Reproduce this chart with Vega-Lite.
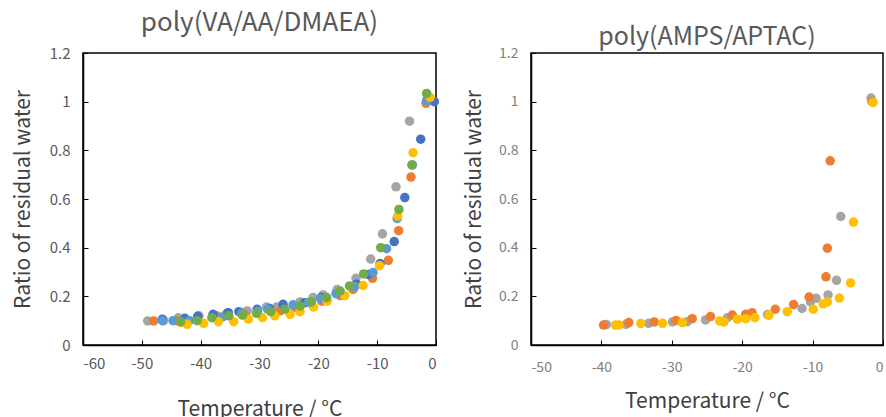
{
  "$schema": "https://vega.github.io/schema/vega-lite/v6.json",
  "padding": {"left": 11, "top": 9, "right": 0, "bottom": 0},
  "background": "white",
  "config": {
    "font": "Noto Sans CJK JP",
    "view": {"stroke": "black", "strokeWidth": 1.5},
    "axis": {
      "grid": false,
      "domainColor": "black",
      "domainWidth": 1.5,
      "tickColor": "black",
      "tickSize": -5,
      "labelColor": "#595959",
      "titleColor": "#404040",
      "titleFontWeight": "normal"
    },
    "title": {"fontWeight": "normal", "color": "#595959", "fontSize": 25},
    "concat": {"spacing": 22}
  },
  "datasets": {
    "left": [
      {"s": "gray", "t": -49.0, "r": 0.099}, {"s": "gray", "t": -46.3, "r": 0.100}, {"s": "gray", "t": -43.8, "r": 0.112}, {"s": "gray", "t": -40.3, "r": 0.120}, {"s": "gray", "t": -35.6, "r": 0.130}, {"s": "gray", "t": -32.1, "r": 0.140}, {"s": "gray", "t": -28.8, "r": 0.156}, {"s": "gray", "t": -27.1, "r": 0.156}, {"s": "gray", "t": -23.1, "r": 0.177}, {"s": "gray", "t": -20.9, "r": 0.195}, {"s": "gray", "t": -19.2, "r": 0.206}, {"s": "gray", "t": -16.8, "r": 0.228}, {"s": "gray", "t": -13.6, "r": 0.274}, {"s": "gray", "t": -11.1, "r": 0.353}, {"s": "gray", "t": -9.1, "r": 0.457}, {"s": "gray", "t": -6.8, "r": 0.650}, {"s": "gray", "t": -4.5, "r": 0.920}, {"s": "gray", "t": -1.6, "r": 1.000},
      {"s": "orange", "t": -48.0, "r": 0.099}, {"s": "orange", "t": -44.0, "r": 0.100}, {"s": "orange", "t": -37.3, "r": 0.120}, {"s": "orange", "t": -32.5, "r": 0.125}, {"s": "orange", "t": -26.5, "r": 0.140}, {"s": "orange", "t": -24.0, "r": 0.155}, {"s": "orange", "t": -19.4, "r": 0.180}, {"s": "orange", "t": -16.3, "r": 0.203}, {"s": "orange", "t": -14.1, "r": 0.228}, {"s": "orange", "t": -10.8, "r": 0.274}, {"s": "orange", "t": -8.1, "r": 0.348}, {"s": "orange", "t": -6.35, "r": 0.470}, {"s": "orange", "t": -4.25, "r": 0.690}, {"s": "orange", "t": -1.7, "r": 0.993},
      {"s": "blue", "t": -46.5, "r": 0.106}, {"s": "blue", "t": -42.7, "r": 0.110}, {"s": "blue", "t": -40.5, "r": 0.118}, {"s": "blue", "t": -37.9, "r": 0.126}, {"s": "blue", "t": -35.3, "r": 0.133}, {"s": "blue", "t": -33.5, "r": 0.137}, {"s": "blue", "t": -30.4, "r": 0.147}, {"s": "blue", "t": -28.3, "r": 0.150}, {"s": "blue", "t": -26.0, "r": 0.167}, {"s": "blue", "t": -22.3, "r": 0.174}, {"s": "blue", "t": -19.5, "r": 0.195}, {"s": "blue", "t": -16.5, "r": 0.215}, {"s": "blue", "t": -13.5, "r": 0.250}, {"s": "blue", "t": -11.5, "r": 0.290}, {"s": "blue", "t": -9.5, "r": 0.335}, {"s": "blue", "t": -7.1, "r": 0.425}, {"s": "blue", "t": -5.3, "r": 0.606}, {"s": "blue", "t": -2.6, "r": 0.846}, {"s": "blue", "t": -0.3, "r": 1.000},
      {"s": "lightblue", "t": -46.5, "r": 0.100}, {"s": "lightblue", "t": -44.7, "r": 0.100}, {"s": "lightblue", "t": -41.9, "r": 0.100}, {"s": "lightblue", "t": -36.3, "r": 0.115}, {"s": "lightblue", "t": -33.0, "r": 0.130}, {"s": "lightblue", "t": -30.3, "r": 0.140}, {"s": "lightblue", "t": -28.6, "r": 0.147}, {"s": "lightblue", "t": -24.3, "r": 0.165}, {"s": "lightblue", "t": -21.7, "r": 0.175}, {"s": "lightblue", "t": -19.6, "r": 0.190}, {"s": "lightblue", "t": -17.0, "r": 0.211}, {"s": "lightblue", "t": -13.8, "r": 0.240}, {"s": "lightblue", "t": -10.7, "r": 0.298}, {"s": "lightblue", "t": -8.4, "r": 0.396}, {"s": "lightblue", "t": -6.6, "r": 0.520}, {"s": "lightblue", "t": -4.0, "r": 0.740}, {"s": "lightblue", "t": -1.6, "r": 1.004},
      {"s": "yellow", "t": -43.3, "r": 0.092}, {"s": "yellow", "t": -42.3, "r": 0.085}, {"s": "yellow", "t": -39.5, "r": 0.089}, {"s": "yellow", "t": -37.0, "r": 0.096}, {"s": "yellow", "t": -34.4, "r": 0.096}, {"s": "yellow", "t": -31.9, "r": 0.106}, {"s": "yellow", "t": -29.5, "r": 0.112}, {"s": "yellow", "t": -27.4, "r": 0.120}, {"s": "yellow", "t": -24.8, "r": 0.126}, {"s": "yellow", "t": -23.1, "r": 0.137}, {"s": "yellow", "t": -20.8, "r": 0.156}, {"s": "yellow", "t": -18.5, "r": 0.180}, {"s": "yellow", "t": -15.5, "r": 0.203}, {"s": "yellow", "t": -12.4, "r": 0.245}, {"s": "yellow", "t": -9.6, "r": 0.326}, {"s": "yellow", "t": -6.5, "r": 0.530}, {"s": "yellow", "t": -3.9, "r": 0.790}, {"s": "yellow", "t": -1.0, "r": 1.018},
      {"s": "green", "t": -43.4, "r": 0.096}, {"s": "green", "t": -40.6, "r": 0.100}, {"s": "green", "t": -38.1, "r": 0.112}, {"s": "green", "t": -35.2, "r": 0.120}, {"s": "green", "t": -32.9, "r": 0.123}, {"s": "green", "t": -30.5, "r": 0.130}, {"s": "green", "t": -28.1, "r": 0.137}, {"s": "green", "t": -25.7, "r": 0.147}, {"s": "green", "t": -23.1, "r": 0.160}, {"s": "green", "t": -21.2, "r": 0.177}, {"s": "green", "t": -18.6, "r": 0.195}, {"s": "green", "t": -16.3, "r": 0.222}, {"s": "green", "t": -14.7, "r": 0.243}, {"s": "green", "t": -12.3, "r": 0.292}, {"s": "green", "t": -9.4, "r": 0.400}, {"s": "green", "t": -6.3, "r": 0.557}, {"s": "green", "t": -4.1, "r": 0.740}, {"s": "green", "t": -1.6, "r": 1.034}
    ],
    "right": [
      {"s": "gray", "t": -39.3, "r": 0.084}, {"s": "gray", "t": -36.5, "r": 0.085}, {"s": "gray", "t": -33.3, "r": 0.089}, {"s": "gray", "t": -29.9, "r": 0.095}, {"s": "gray", "t": -27.8, "r": 0.096}, {"s": "gray", "t": -25.2, "r": 0.103}, {"s": "gray", "t": -22.1, "r": 0.112}, {"s": "gray", "t": -16.4, "r": 0.125}, {"s": "gray", "t": -11.5, "r": 0.150}, {"s": "gray", "t": -10.3, "r": 0.177}, {"s": "gray", "t": -9.5, "r": 0.192}, {"s": "gray", "t": -7.8, "r": 0.206}, {"s": "gray", "t": -6.6, "r": 0.266}, {"s": "gray", "t": -6.0, "r": 0.528}, {"s": "gray", "t": -1.7, "r": 1.015},
      {"s": "orange", "t": -39.7, "r": 0.082}, {"s": "orange", "t": -36.1, "r": 0.092}, {"s": "orange", "t": -32.5, "r": 0.095}, {"s": "orange", "t": -29.4, "r": 0.101}, {"s": "orange", "t": -27.1, "r": 0.108}, {"s": "orange", "t": -24.5, "r": 0.117}, {"s": "orange", "t": -21.4, "r": 0.123}, {"s": "orange", "t": -19.5, "r": 0.126}, {"s": "orange", "t": -18.6, "r": 0.133}, {"s": "orange", "t": -15.3, "r": 0.147}, {"s": "orange", "t": -12.7, "r": 0.166}, {"s": "orange", "t": -10.5, "r": 0.197}, {"s": "orange", "t": -8.1, "r": 0.280}, {"s": "orange", "t": -7.9, "r": 0.398}, {"s": "orange", "t": -7.5, "r": 0.757}, {"s": "orange", "t": -1.56, "r": 1.000},
      {"s": "yellow", "t": -38.0, "r": 0.082}, {"s": "yellow", "t": -37.5, "r": 0.082}, {"s": "yellow", "t": -34.4, "r": 0.088}, {"s": "yellow", "t": -31.3, "r": 0.089}, {"s": "yellow", "t": -28.5, "r": 0.092}, {"s": "yellow", "t": -23.2, "r": 0.099}, {"s": "yellow", "t": -22.6, "r": 0.095}, {"s": "yellow", "t": -20.7, "r": 0.106}, {"s": "yellow", "t": -19.5, "r": 0.108}, {"s": "yellow", "t": -18.2, "r": 0.112}, {"s": "yellow", "t": -16.2, "r": 0.122}, {"s": "yellow", "t": -13.6, "r": 0.137}, {"s": "yellow", "t": -9.9, "r": 0.147}, {"s": "yellow", "t": -8.5, "r": 0.169}, {"s": "yellow", "t": -7.9, "r": 0.177}, {"s": "yellow", "t": -6.2, "r": 0.193}, {"s": "yellow", "t": -4.6, "r": 0.255}, {"s": "yellow", "t": -4.2, "r": 0.505}, {"s": "yellow", "t": -1.4, "r": 0.997}
    ]
  },
  "hconcat": [
    {
      "width": 353,
      "height": 292,
      "data": {"name": "left"},
      "title": {"text": "poly(VA/AA/DMAEA)", "offset": 10, "fontSize": 26},
      "mark": {"type": "circle", "size": 90, "opacity": 1},
      "encoding": {
        "x": {"field": "t", "type": "quantitative", "scale": {"domain": [-60, 0], "nice": false},
          "axis": {"values": [-60, -50, -40, -30, -20, -10, 0], "labelExpr": "'' + datum.value", "title": "Temperature / °C", "titleFontSize": 21, "labelFontSize": 15, "labelPadding": 16, "titlePadding": 27}},
        "y": {"field": "r", "type": "quantitative", "scale": {"domain": [0, 1.2], "nice": false},
          "axis": {"values": [0, 0.2, 0.4, 0.6, 0.8, 1, 1.2], "format": ".1~f", "title": "Ratio of residual water", "titleFontSize": 21, "labelFontSize": 15, "labelPadding": 18, "titlePadding": 16}},
        "color": {"field": "s", "type": "nominal", "legend": null,
          "scale": {"domain": ["gray", "orange", "blue", "lightblue", "yellow", "green"], "range": ["#A5A5A5", "#ED7D31", "#4472C4", "#5B9BD5", "#FFC000", "#70AD47"]}}
      }
    },
    {
      "width": 352,
      "height": 292,
      "data": {"name": "right"},
      "title": {"text": "poly(AMPS/APTAC)", "offset": -4},
      "mark": {"type": "circle", "size": 90, "opacity": 1},
      "encoding": {
        "x": {"field": "t", "type": "quantitative", "scale": {"domain": [-50, 0], "nice": false},
          "axis": {"values": [-50, -40, -30, -20, -10, 0], "labelExpr": "'' + datum.value", "title": "Temperature / °C", "titleFontSize": 21, "labelFontSize": 14, "labelColor": "#7f7f7f", "labelPadding": 20, "titlePadding": 16}},
        "y": {"field": "r", "type": "quantitative", "scale": {"domain": [0, 1.2], "nice": false},
          "axis": {"values": [0, 0.2, 0.4, 0.6, 0.8, 1, 1.2], "format": ".1~f", "title": "Ratio of residual water", "titleFontSize": 21, "labelFontSize": 14, "labelColor": "#7f7f7f", "labelPadding": 18, "titlePadding": 14}},
        "color": {"field": "s", "type": "nominal", "legend": null,
          "scale": {"domain": ["gray", "orange", "yellow"], "range": ["#A5A5A5", "#ED7D31", "#FFC000"]}}
      }
    }
  ],
  "resolve": {"scale": {"color": "independent"}}
}
